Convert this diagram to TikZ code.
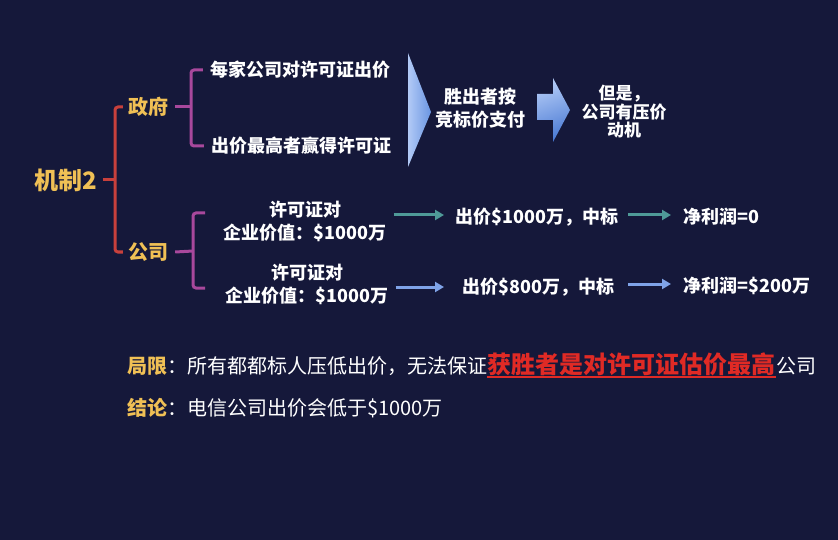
\documentclass[tikz,border=0pt]{standalone}
\usepackage{fontspec}
\setmainfont{Noto Sans CJK SC}
\usetikzlibrary{arrows.meta,calc}
\definecolor{bg}{HTML}{15183A}
\definecolor{gold}{HTML}{F0C055}
\definecolor{redbr}{HTML}{C8403C}
\definecolor{purp}{HTML}{A8489C}
\definecolor{tealc}{HTML}{4F9A98}
\definecolor{bluec}{HTML}{7FA3E8}
\definecolor{hired}{HTML}{E02A25}
\definecolor{shlight}{HTML}{B2CAF6}
\definecolor{shmid}{HTML}{6A95E2}
\definecolor{shdark}{HTML}{4A7AD4}
\tikzset{
  txt/.style={inner sep=0pt, text=white, font=\bfseries\fontsize{18}{23}\selectfont, align=center},
  goldtxt/.style={inner sep=0pt, text=gold, font=\bfseries\fontsize{20}{24}\selectfont},
  redbracket/.style={draw=redbr, line width=3pt, rounded corners=3pt},
  purpbracket/.style={draw=purp, line width=3pt, rounded corners=3pt},
  tealarrow/.style={draw=tealc, line width=3pt, -{Triangle[length=9pt,width=10pt]}},
  bluearrow/.style={draw=bluec, line width=3pt, -{Triangle[length=9pt,width=10pt]}},
  bottomtxt/.style={inner sep=0pt, text=white, font=\fontsize{20}{24}\selectfont, anchor=base west},
}
\begin{document}
\begin{tikzpicture}[x=1pt,y=-1pt]
\fill[bg] (0,0) rectangle (838,540);
\useasboundingbox (0,0) rectangle (838,540);

% left tree
\node[goldtxt, font=\bfseries\fontsize{24}{28}\selectfont] (jz) at (66,180) {机制2};
\node[goldtxt] (zf) at (148,107) {政府};
\node[goldtxt] (gs) at (148,252) {公司};

\coordinate (rb) at (115,180);
\draw[redbracket] ([xshift=-5pt]zf.west) -| (rb) |- ([xshift=-5pt]gs.west);
\draw[redbracket] ([xshift=5pt]jz.east) -- (rb);

\node[txt] (t1) at (300,70) {每家公司对许可证出价};
\node[txt] (t2) at (301,146) {出价最高者赢得许可证};
\coordinate (pb1) at (191,107);
\draw[purpbracket] ([xshift=-7pt]t1.west) -| (pb1) |- ([xshift=-7pt]t2.west);
\draw[purpbracket] ([xshift=7pt]zf.east) -- (pb1);

\node[txt] (v1) at (305,221) {许可证对\\企业价值：\$1000万};
\node[txt] (v2) at (307,284) {许可证对\\企业价值：\$1000万};
\coordinate (pb2t) at (205,213);
\coordinate (pb2) at (193,251);
\coordinate (pb2b) at (205,288);
\draw[purpbracket] (pb2t) -| (pb2) |- (pb2b);
\draw[purpbracket] ([xshift=7pt]gs.east) -- (pb2);

% chevron and block arrow
\shade[left color=shlight, right color=shmid] (408,53) -- (431,112) -- (408,167) -- cycle;
\node[txt] (pay) at (480,108) {胜出者按\\竞标价支付};
\shade[top color=shlight, bottom color=shdark, shading angle=20]
  (537,94) -- (553,94) -- (553,78) -- (570,110) -- (553,142) -- (553,120) -- (537,120) -- cycle;
\node[txt, font=\bfseries\fontsize{17}{18.5}\selectfont] (but) at (624,112) {但是，\\公司有压价\\动机};

% company rows
\node[txt, anchor=west] (b1) at (455,217) {出价\$1000万，中标};
\node[txt, anchor=west] (p1) at (683,217) {净利润=0};
\node[txt, anchor=west] (b2) at (462,287) {出价\$800万，中标};
\node[txt, anchor=west] (p2) at (683,286) {净利润=\$200万};

\draw[tealarrow] ([xshift=7pt,yshift=6pt]v1.east) -- ([xshift=-11pt,yshift=2pt]b1.west);
\draw[tealarrow] ([xshift=10pt,yshift=2pt]b1.east) -- ([xshift=-12pt,yshift=2pt]p1.west);
\draw[bluearrow] ([xshift=7pt,yshift=-3pt]v2.east) -- ([xshift=-18pt]b2.west);
\draw[bluearrow] ([xshift=14pt,yshift=3pt]b2.east) -- ([xshift=-12pt,yshift=2pt]p2.west);

% bottom text
\node[bottomtxt] (lim1) at (127,373) {{\bfseries\color{gold}局限}：所有都都标人压低出价，无法保证};
\node[bottomtxt, anchor=base west, text=hired, font=\bfseries\fontsize{24}{28}\selectfont] (lim2) at (lim1.base east) {获胜者是对许可证估价最高};
\node[bottomtxt, anchor=base west] (lim3) at (lim2.base east) {公司};
\draw[hired, line width=2pt] ([yshift=-4pt]lim2.base west) -- ([yshift=-4pt]lim2.base east);

\node[bottomtxt] (con) at (127,415) {{\bfseries\color{gold}结论}：电信公司出价会低于\$1000万};
\end{tikzpicture}
\end{document}
